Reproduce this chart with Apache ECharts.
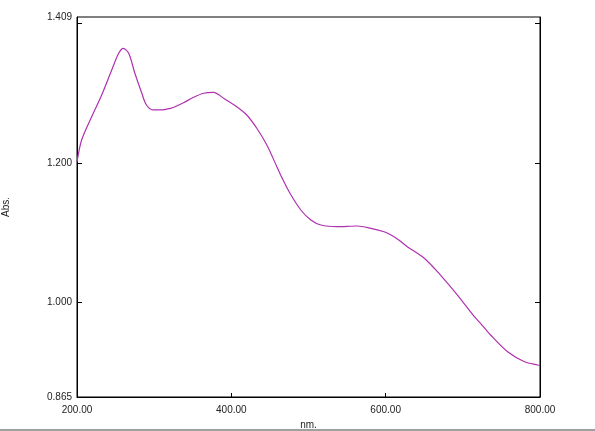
<!DOCTYPE html>
<html>
<head>
<meta charset="utf-8">
<script src="https://cdn.jsdelivr.net/npm/echarts@6/dist/echarts.min.js"></script>
<style>
html,body{margin:0;padding:0;background:#fff;}
#chart{width:595px;height:431px;}
</style>
</head>
<body>
<div id="chart"></div>
<script>
// Wavelength (nm) and absorbance
const wavelengths = [200, 206, 219, 232, 245, 254, 260, 267, 275, 284, 290, 299, 310, 321, 327, 338, 351, 364, 377, 390, 407, 420, 433, 446, 459, 466, 476, 490, 503, 516, 537, 563, 581, 598, 607, 617, 628, 650, 671, 693, 715, 723, 736, 758, 780, 797, 800];
const absorbance  = [1.2014, 1.2329, 1.2663, 1.2973, 1.3331, 1.3570, 1.3642, 1.3570, 1.3284, 1.2998, 1.2830, 1.2759, 1.2759, 1.2783, 1.2806, 1.2863, 1.2940, 1.2998, 1.3012, 1.2926, 1.2806, 1.2687, 1.2497, 1.2257, 1.1947, 1.1780, 1.1566, 1.1327, 1.1184, 1.1112, 1.1088, 1.1098, 1.1065, 1.1016, 1.0969, 1.0897, 1.0801, 1.0636, 1.0396, 1.0110, 0.9799, 0.9705, 0.9538, 0.9298, 0.9155, 0.9108, 0.9101];
const yLabelValues = [0.865, 1.000, 1.200, 1.409];
const yTickValues = [1.000, 1.200, 1.400];
const xTicks = [200, 400, 600, 800];

const chart = echarts.init(document.getElementById('chart'));
const font = 'Liberation Sans, Arial, sans-serif';
chart.setOption({
  animation: false,
  backgroundColor: '#ffffff',
  grid: {left: 77, right: 55, top: 17, bottom: 34, show: true, borderColor: '#000', borderWidth: 1, outerBoundsMode: 'none'},
  xAxis: {
    type: 'value', min: 200, max: 800, interval: 200,
    name: 'nm.', nameLocation: 'middle', nameGap: 20,
    nameTextStyle: {fontFamily: font, fontSize: 10, color: '#222'},
    axisLine: {show: true, lineStyle: {color: '#000', width: 1}},
    axisTick: {show: true, inside: true, length: 4, lineStyle: {color: '#000'}},
    axisLabel: {fontFamily: font, fontSize: 10, color: '#222', margin: 8, formatter: v => v.toFixed(2)},
    splitLine: {show: false}
  },
  yAxis: [{
    type: 'value', min: 0.865, max: 1.409,
    name: 'Abs.', nameLocation: 'middle', nameGap: 66, nameRotate: 90,
    nameTextStyle: {fontFamily: font, fontSize: 10, color: '#222'},
    axisLine: {show: true, lineStyle: {color: '#000', width: 1}},
    axisTick: {show: true, inside: true, length: 5, customValues: yTickValues, lineStyle: {color: '#000'}},
    axisLabel: {fontFamily: font, fontSize: 10, color: '#222', margin: 5, customValues: yLabelValues, formatter: v => v.toFixed(3)},
    splitLine: {show: false}
  }, {
    type: 'value', min: 0.865, max: 1.409, position: 'right',
    axisLine: {show: true, lineStyle: {color: '#000', width: 1}},
    axisTick: {show: true, inside: true, length: 5, customValues: yTickValues, lineStyle: {color: '#000'}},
    axisLabel: {show: false},
    splitLine: {show: false}
  }],
  graphic: [{
    type: 'line', shape: {x1: 0, y1: 430, x2: 595, y2: 430},
    style: {stroke: '#808080', lineWidth: 1.5}
  }],
  series: [{
    type: 'line',
    data: wavelengths.map((w, i) => [w, absorbance[i]]),
    showSymbol: false,
    smooth: 0.3,
    lineStyle: {color: '#b030b0', width: 1.2}
  }]
});
</script>
</body>
</html>
